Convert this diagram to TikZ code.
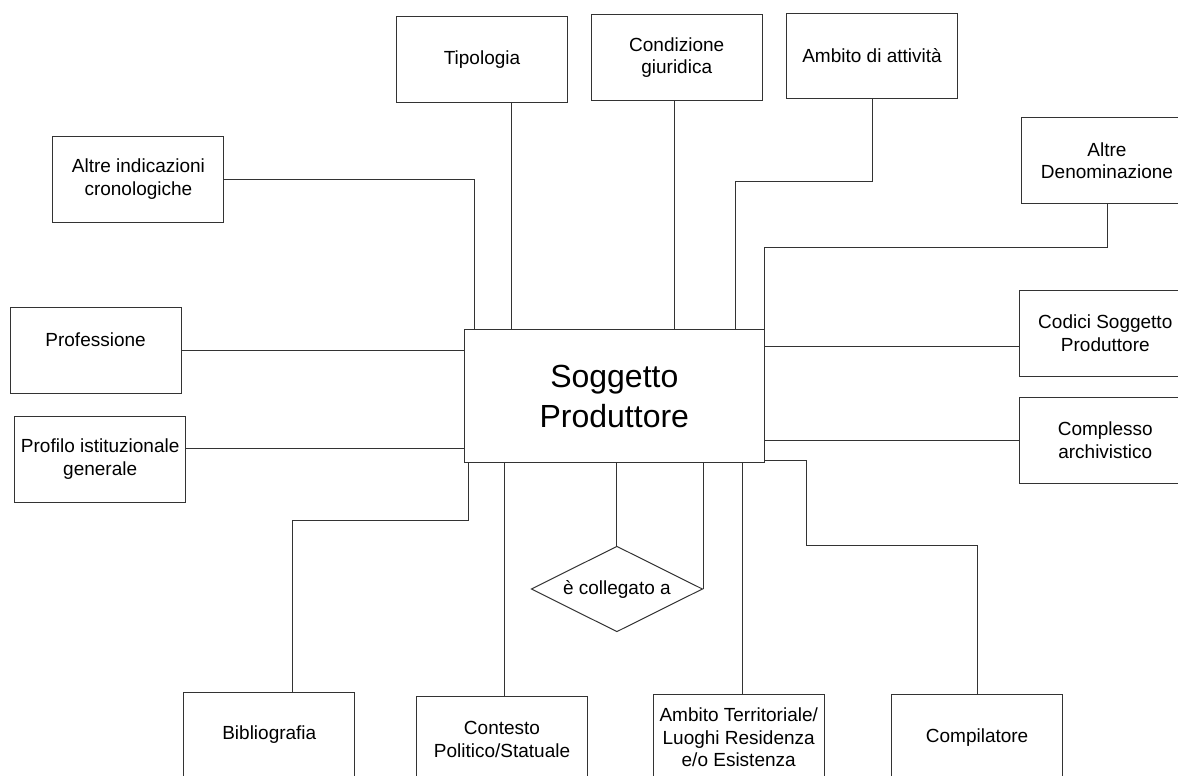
\documentclass[tikz,border=0pt]{standalone}
\usepackage{fontspec}
\setmainfont{Liberation Sans}
\usetikzlibrary{shapes.geometric}
\tikzset{
  box/.style={draw=black!80, line width=1pt, minimum width=171pt, minimum height=85.5pt,
    inner sep=0pt, align=center, anchor=north west, font=\fontsize{19}{22.6}\selectfont},
  mainbox/.style={draw=black!80, line width=1pt, minimum width=300pt, minimum height=133.3pt,
    inner sep=0pt, align=center, anchor=north west, font=\fontsize{32}{40}\selectfont},
  rel/.style={draw=black!80, line width=1pt, diamond, aspect=2, minimum width=171.4pt,
    minimum height=85.6pt, inner sep=0pt, align=center, font=\fontsize{19}{22.6}\selectfont},
  conn/.style={draw=black!80, line width=1pt}
}
\begin{document}
\begin{tikzpicture}[x=1pt,y=-1pt]
\useasboundingbox (0,0) rectangle (1178,776);
\fill[white] (0,0) rectangle (1178,776);
\clip (0,0) rectangle (1178,776);

\node[box] (tip) at (396,16) {Tipologia};
\node[box] (cg) at (590.7,14.3) {Condizione\\giuridica};
\node[box] (ada) at (786,12.7) {Ambito di attività};
\node[box] (aden) at (1021,117.3) {Altre\\Denominazione};
\node[box] (aic) at (52.4,136) {Altre indicazioni\\cronologiche};
\node[box] (prof) at (9.6,307.3) {Professione\\\mbox{}};
\node[box] (pig) at (14.2,416) {Profilo istituzionale\\generale};
\node[box] (cod) at (1019.3,290) {Codici Soggetto\\Produttore};
\node[box] (cpx) at (1019.3,397) {Complesso\\archivistico};
\node[box] (bib) at (183.3,691.7) {Bibliografia};
\node[box] (cps) at (416,696) {Contesto\\Politico/Statuale};
\node[box] (atl) at (652.7,694) {Ambito Territoriale/\\Luoghi Residenza\\e/o Esistenza};
\node[box] (cmp) at (891.1,694) {Compilatore};
\node[mainbox] (sp) at (463.8,329) {Soggetto\\Produttore};
\node[rel] (dia) at (616.9,589) {è collegato a};

\draw[conn] (511.7,0 |- tip.south) -- (511.7,0 |- sp.north);
\draw[conn] (674.5,0 |- cg.south) -- (674.5,0 |- sp.north);
\draw[conn] (872,0 |- ada.south) -- (872,181) -- (735.8,181) -- (735.8,0 |- sp.north);
\draw[conn] (1107.4,0 |- aden.south) -- (1107.4,247.7) -- (sp.north east |- 0,247.7) -- (sp.north east);
\draw[conn] (aic.east) -| (474.5,0 |- sp.north);
\draw[conn] (prof.east) -- (prof.east -| sp.west);
\draw[conn] (pig.east |- 0,448.3) -- (sp.west |- 0,448.3);
\draw[conn] (cod.west |- 0,346.7) -- (sp.east |- 0,346.7);
\draw[conn] (cpx.west) -- (cpx.west -| sp.east);
\draw[conn] (468.8,0 |- sp.south) -- (468.8,520) -- (292,520) -- (292,0 |- bib.north);
\draw[conn] (504.4,0 |- sp.south) -- (504.4,0 |- cps.north);
\draw[conn] (dia.north) -- (dia.north |- sp.south);
\draw[conn] (dia.east) -- (dia.east |- sp.south);
\draw[conn] (742.6,0 |- sp.south) -- (742.6,0 |- atl.north);
\draw[conn] (sp.east |- 0,460) -- (806.6,460) -- (806.6,545.3) -| (cmp.north);
\end{tikzpicture}
\end{document}
